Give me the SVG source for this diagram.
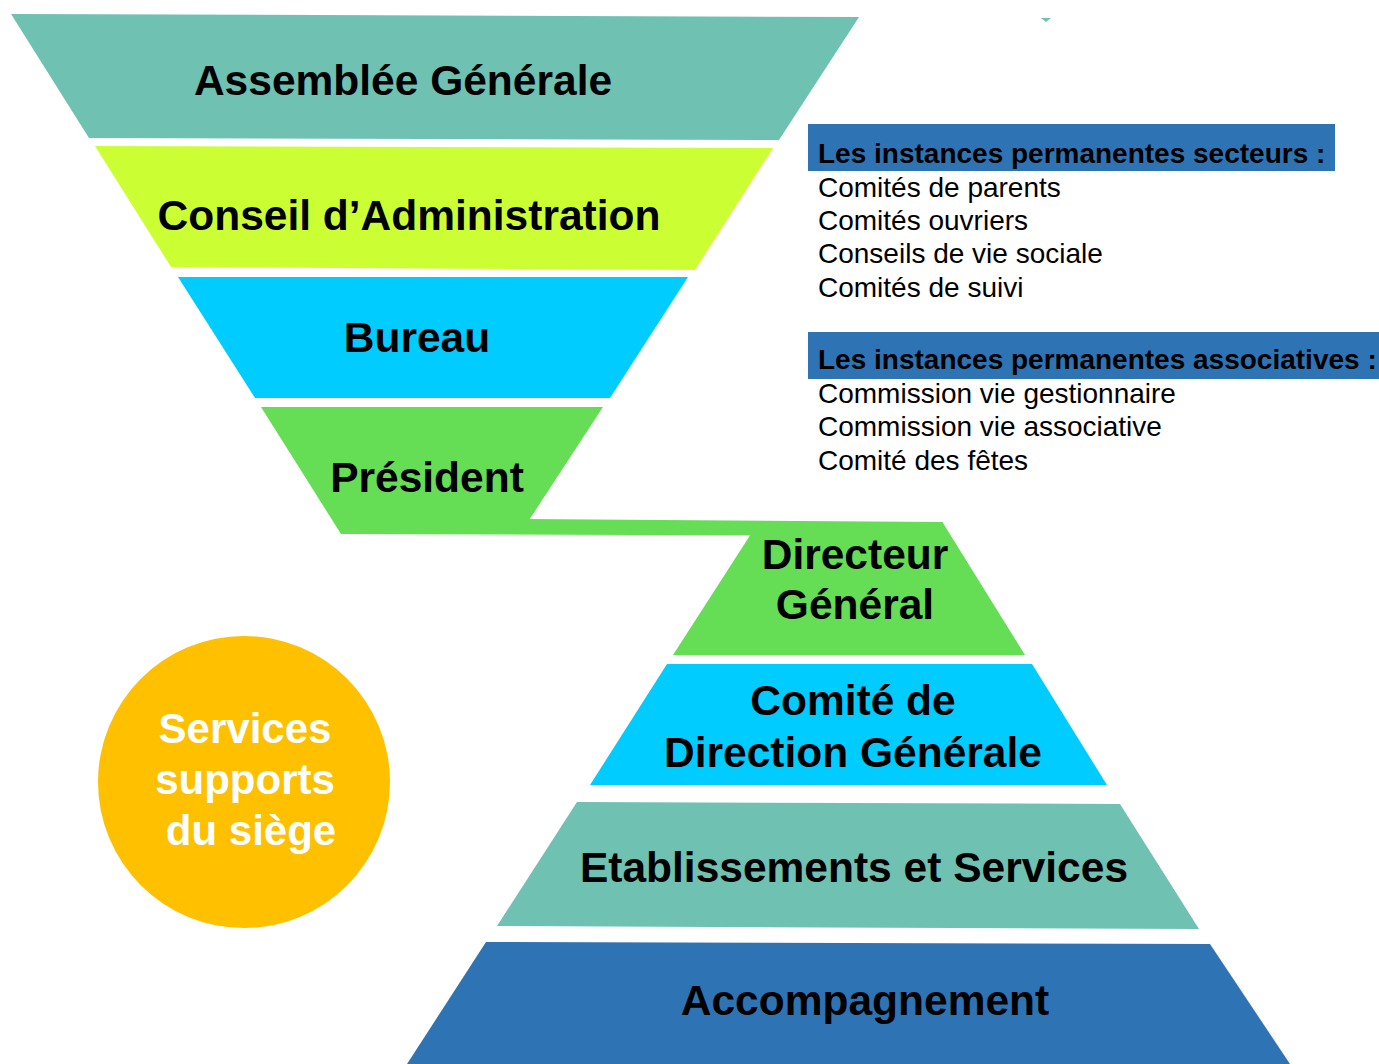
<svg xmlns="http://www.w3.org/2000/svg" width="1379" height="1064" viewBox="0 0 1379 1064">
<style>
.lbl{font-family:"Liberation Sans",Arial,sans-serif;font-weight:bold;font-size:42.5px;fill:#000;text-anchor:middle}
.wl{font-family:"Liberation Sans",Arial,sans-serif;font-weight:bold;font-size:42px;fill:#fff;text-anchor:middle}
.hd{font-family:"Liberation Sans",Arial,sans-serif;font-weight:bold;font-size:28px;fill:#000}
.it{font-family:"Liberation Sans",Arial,sans-serif;font-size:28px;fill:#000}
.teal{fill:#6FC1B2}.lime{fill:#CCFF33}.cyan{fill:#00CCFF}.green{fill:#65DD55}.blue{fill:#2E74B5}.yel{fill:#FFC000}
</style>
<rect width="1379" height="1064" fill="#fff"/>
<g id="assemblee">
<polygon class="teal" points="11,14 859,17 779,140 89,138"/>
<text class="lbl" x="403" y="95">Assemblée Générale</text>
</g>
<g id="conseil">
<polygon class="lime" points="95,146 773,148 695,270 171,267"/>
<text class="lbl" x="409" y="230">Conseil d’Administration</text>
</g>
<g id="bureau">
<polygon class="cyan" points="178,277 688,277 610,398 255,398"/>
<text class="lbl" x="417" y="352">Bureau</text>
</g>
<g id="connectors">
<polygon class="green" points="525,519 943,522 943,536 345,534"/>
</g>
<g id="president">
<polygon class="green" points="261,407 603,407 520,534 341,534"/>
<text class="lbl" x="427" y="492">Président</text>
</g>
<g id="directeur">
<polygon class="green" points="758,523 943,523 1025,655 673,655"/>
<text class="lbl" x="855" y="569">Directeur</text>
<text class="lbl" x="855" y="619">Général</text>
</g>
<g id="codir">
<polygon class="cyan" points="667,664 1032,664 1107,785 590,785"/>
<text class="lbl" x="853" y="715">Comité de</text>
<text class="lbl" x="853" y="767">Direction Générale</text>
</g>
<g id="etablissements">
<polygon class="teal" points="577,802 1120,804 1199,929 497,926"/>
<text class="lbl" x="854" y="882">Etablissements et Services</text>
</g>
<g id="accompagnement">
<polygon class="blue" points="486,942 1210,944 1290,1064 407,1064"/>
<text class="lbl" x="865" y="1015">Accompagnement</text>
</g>
<g id="services">
<circle class="yel" cx="244" cy="782" r="146"/>
<text class="wl" x="245" y="743">Services</text>
<text class="wl" x="245" y="794">supports</text>
<text class="wl" x="251" y="845">du siège</text>
</g>
<g id="mark">
<polygon class="teal" points="1041,18 1051,18 1046,22"/>
</g>
<g id="secteurs">
<rect class="blue" x="808" y="124" width="527" height="47"/>
<text class="hd" x="818" y="163">Les instances permanentes secteurs :</text>
<text class="it" x="818" y="197">Comités de parents</text>
<text class="it" x="818" y="230">Comités ouvriers</text>
<text class="it" x="818" y="263">Conseils de vie sociale</text>
<text class="it" x="818" y="297">Comités de suivi</text>
</g>
<g id="associatives">
<rect class="blue" x="808" y="332" width="571" height="47"/>
<text class="hd" x="818" y="369">Les instances permanentes associatives :</text>
<text class="it" x="818" y="403">Commission vie gestionnaire</text>
<text class="it" x="818" y="436">Commission vie associative</text>
<text class="it" x="818" y="470">Comité des fêtes</text>
</g>
</svg>
